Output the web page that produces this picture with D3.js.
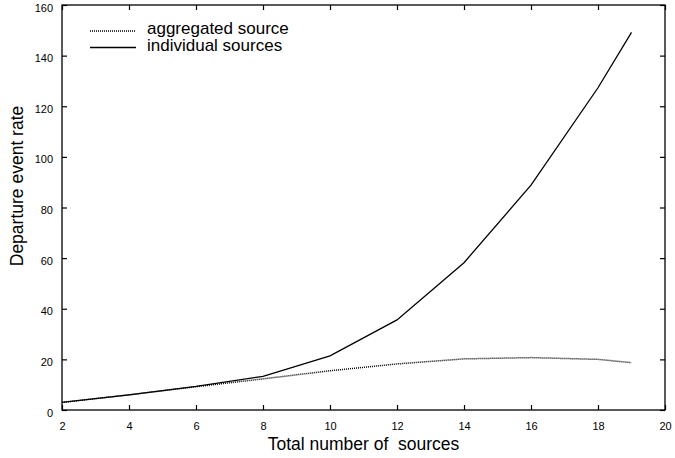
<!DOCTYPE html>
<html lang="en">
<head>
<script src="https://d3js.org/d3.v7.min.js"></script>
<style>
body { margin: 0; background: #fff; }
text { font-family: "Liberation Sans", Arial, sans-serif; fill: #000; }
</style>
</head>
<body>
<script>
var sources = [2, 4, 6, 8, 10, 12, 14, 16, 18, 19];
var aggregated = [3, 6, 9.2, 12.3, 15.5, 18.2, 20.2, 20.7, 20, 18.7];
var individual = [3, 6, 9.3, 13.3, 21.4, 35.6, 58.2, 88.8, 127.3, 149.2];
var xTicks = [2, 4, 6, 8, 10, 12, 14, 16, 18, 20];
var yTicks = [0, 20, 40, 60, 80, 100, 120, 140, 160];

var width = 675, height = 458;
var margin = {left: 62, right: 10, top: 5, bottom: 48};

var svg = d3.select("body").append("svg")
  .attr("width", width)
  .attr("height", height);

var x = d3.scaleLinear().domain([2, 20]).range([margin.left, width - margin.right]);
var y = d3.scaleLinear().domain([0, 160]).range([height - margin.bottom, margin.top]);

// ticks point inward on all four sides
svg.append("g")
  .attr("transform", "translate(0," + y(0) + ")")
  .call(d3.axisBottom(x).tickValues(xTicks).tickSizeInner(-5).tickSizeOuter(0).tickPadding(12.5));
svg.append("g")
  .attr("transform", "translate(0," + y(160) + ")")
  .call(d3.axisTop(x).tickValues(xTicks).tickSizeInner(-5).tickSizeOuter(0).tickFormat(""));
var yAxis = svg.append("g")
  .attr("transform", "translate(" + x(2) + ",0)")
  .call(d3.axisLeft(y).tickValues(yTicks).tickSizeInner(-5).tickSizeOuter(0).tickPadding(9));
svg.append("g")
  .attr("transform", "translate(" + x(20) + ",0)")
  .call(d3.axisRight(y).tickValues(yTicks).tickSizeInner(-5).tickSizeOuter(0).tickFormat(""));

svg.selectAll(".tick text").style("font-size", "11px");
yAxis.selectAll(".tick text").attr("dy", "0.55em");
svg.selectAll(".domain").remove();
svg.selectAll(".tick line").attr("stroke", "#000").attr("stroke-width", 1.2);

svg.append("rect")
  .attr("x", x(2)).attr("y", y(160))
  .attr("width", x(20) - x(2)).attr("height", y(0) - y(160))
  .attr("fill", "none").attr("stroke", "#000").attr("stroke-width", 1.3);

var line = d3.line()
  .x(function(d) { return x(d[0]); })
  .y(function(d) { return y(d[1]); });

svg.append("path")
  .datum(d3.zip(sources, aggregated))
  .attr("d", line)
  .attr("fill", "none").attr("stroke", "#000")
  .attr("stroke-width", 1.5).attr("stroke-dasharray", "1,1");

svg.append("path")
  .datum(d3.zip(sources, individual))
  .attr("d", line)
  .attr("fill", "none").attr("stroke", "#000")
  .attr("stroke-width", 1.3);

// legend
var legend = [["aggregated source", "1,1"], ["individual sources", null]];
legend.forEach(function(l, i) {
  var ly = 31 + i * 16.5;
  svg.append("line")
    .attr("x1", 90).attr("x2", 136).attr("y1", ly).attr("y2", ly)
    .attr("stroke", "#000").attr("stroke-width", l[1] ? 1.5 : 1.3)
    .attr("stroke-dasharray", l[1]);
  svg.append("text")
    .attr("x", 147).attr("y", ly + 3)
    .style("font-size", "17px")
    .text(l[0]);
});

svg.append("text")
  .attr("x", (x(2) + x(20)) / 2).attr("y", 450)
  .attr("text-anchor", "middle")
  .style("font-size", "17.5px")
  .style("white-space", "pre")
  .text("Total number of  sources");

svg.append("text")
  .attr("transform", "translate(23,186) rotate(-90)")
  .attr("text-anchor", "middle")
  .style("font-size", "17.5px")
  .text("Departure event rate");
</script>
</body>
</html>
